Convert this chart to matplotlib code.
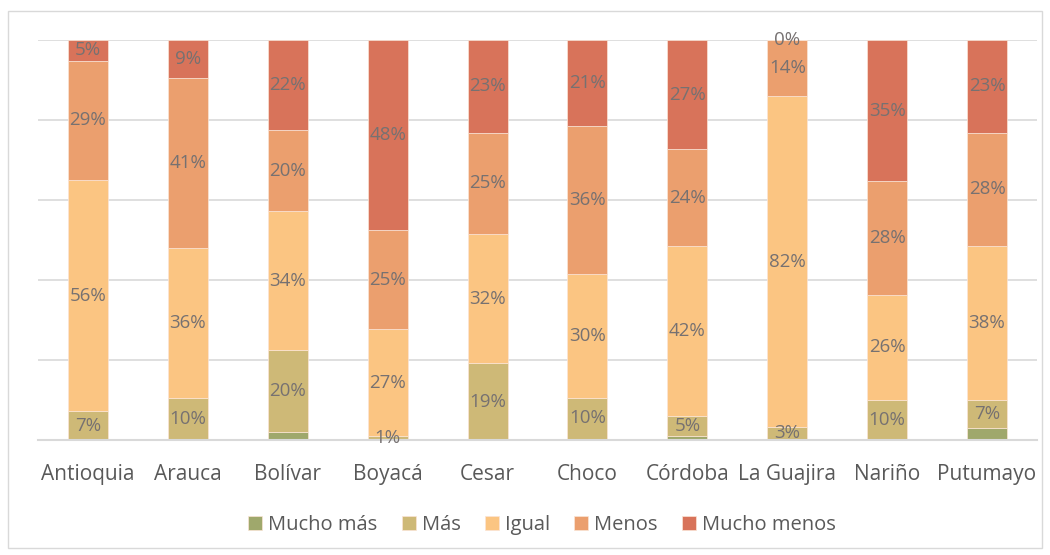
import numpy as np
import matplotlib.pyplot as plt
from matplotlib.patches import Rectangle

plt.rcParams['font.family'] = ['Open Sans', 'DejaVu Sans']

# datos (porcentajes tal como aparecen en las etiquetas)
departamentos = ['Antioquia', 'Arauca', 'Bolívar', 'Boyacá', 'Cesar',
                 'Choco', 'Córdoba', 'La Guajira', 'Nariño', 'Putumayo']
mucho_mas = [0, 0, 2, 0, 0, 0.3, 1, 0.3, 0, 3]
mas = [7, 10, 20, 1, 19, 10, 5, 3, 10, 7]
igual = [56, 36, 34, 27, 32, 30, 42, 82, 26, 38]
menos = [29, 41, 20, 25, 25, 36, 24, 14, 28, 28]
mucho_menos = [5, 9, 22, 48, 23, 21, 27, 0, 35, 23]

series = ['Mucho más', 'Más', 'Igual', 'Menos', 'Mucho menos']
colores = ['#9FA86C', '#CEB977', '#FBC582', '#EB9F6E', '#D8735A']
valores = np.array([mucho_mas, mas, igual, menos, mucho_menos], dtype=float)

# gráfico 100% apilado
totales = valores.sum(axis=0)
pct = valores / totales * 100

fig = plt.figure(figsize=(10.5, 5.55), dpi=100)
ax = fig.add_axes([38 / 1050, 1 - 440 / 555, 999 / 1050, 400 / 555])

x = np.arange(len(departamentos))
base = np.zeros(len(departamentos))
for i, nombre in enumerate(series):
    barras = ax.bar(x, pct[i], 0.4, bottom=base, color=colores[i],
                    edgecolor='#FBE5D6', linewidth=0.5, label=nombre, zorder=2)
    if i > 0:
        etiquetas = ['%d%%' % round(v) for v in valores[i]]
        ax.bar_label(barras, labels=etiquetas, label_type='center',
                     color='#767171', fontsize=13.5)
    base += pct[i]

ax.set_xlim(-0.5, len(departamentos) - 0.5)
ax.set_ylim(0, 100)
ax.set_yticks([0, 20, 40, 60, 80, 100])
ax.yaxis.grid(True, color='#D9D9D9', linewidth=1.2, zorder=0)
ax.tick_params(axis='y', length=0, labelleft=False)
ax.tick_params(axis='x', length=0, pad=17, labelsize=15, labelcolor='#595959')
ax.set_xticks(x)
ax.set_xticklabels(departamentos)
for lado in ['top', 'right', 'left']:
    ax.spines[lado].set_visible(False)
ax.spines['bottom'].set_color('#D9D9D9')
ax.spines['bottom'].set_linewidth(1.5)

fig.legend(loc='center', bbox_to_anchor=(542 / 1050, 1 - 525 / 555), ncol=5,
           frameon=False, fontsize=14.5, labelcolor='#595959',
           handlelength=0.7, handleheight=0.7, handletextpad=0.3,
           columnspacing=1.2)

# borde del área del gráfico
fig.patches.append(Rectangle((8 / 1050, 7 / 555), 1034 / 1050, 537 / 555,
                             transform=fig.transFigure, fill=False,
                             edgecolor='#D9D9D9', linewidth=1))

fig.savefig('out.png', dpi=100)
